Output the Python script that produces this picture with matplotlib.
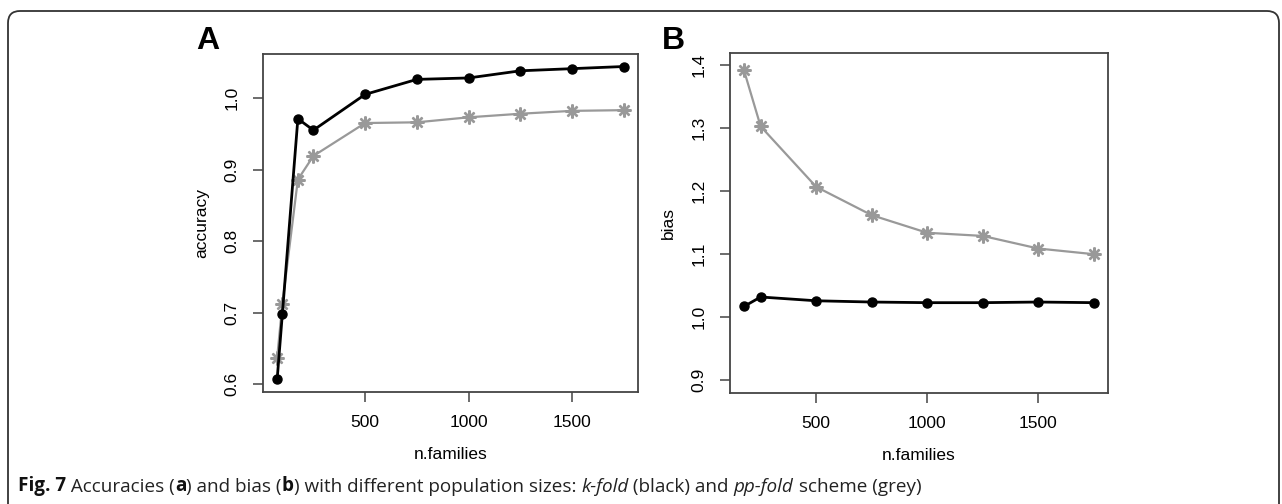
import matplotlib
matplotlib.use("Agg")
import matplotlib.pyplot as plt
from matplotlib.patches import FancyBboxPatch
from matplotlib.transforms import IdentityTransform
import numpy as np

# ---- data ----
n_families_a = [75, 100, 175, 250, 500, 750, 1000, 1250, 1500, 1750]
acc_kfold = [0.607, 0.698, 0.971, 0.955, 1.005, 1.026, 1.028, 1.038, 1.041, 1.044]
acc_ppfold = [0.637, 0.712, 0.886, 0.919, 0.965, 0.966, 0.973, 0.978, 0.982, 0.983]

n_families_b = [175, 250, 500, 750, 1000, 1250, 1500, 1750]
bias_kfold = [1.017, 1.032, 1.026, 1.024, 1.023, 1.023, 1.024, 1.023]
bias_ppfold = [1.392, 1.303, 1.207, 1.162, 1.134, 1.129, 1.109, 1.100]

x_ticks = [500, 1000, 1500]
acc_ticks = [0.6, 0.7, 0.8, 0.9, 1.0]
bias_ticks = [0.9, 1.0, 1.1, 1.2, 1.3, 1.4]

W, H = 1282, 504
DPI = 100
fig = plt.figure(figsize=(W / DPI, H / DPI), dpi=DPI)
fig.patch.set_facecolor("white")

AX_FONT = "Liberation Sans"
GREY = "#999999"
FRAME = "#444444"


def rect(l, t, r, b):
    return [l / W, 1 - b / H, (r - l) / W, (b - t) / H]


def r_expand(lo, hi):
    d = (hi - lo) * 0.04
    return lo - d, hi + d


def style(ax, yticks):
    for s in ax.spines.values():
        s.set_color(FRAME)
        s.set_linewidth(1.3)
    ax.set_xticks(x_ticks)
    ax.set_xticklabels([str(v) for v in x_ticks])
    ax.set_yticks(yticks)
    ax.set_yticklabels([f"{v:.1f}" for v in yticks])
    ax.tick_params(axis="both", direction="out", length=7, width=1.1,
                   color=FRAME, labelsize=12.5, pad=10)
    for lab in ax.get_yticklabels():
        lab.set_rotation(90)
        lab.set_va("center")
        lab.set_family(AX_FONT)
    for lab in ax.get_xticklabels():
        lab.set_family(AX_FONT)


def plot_series(ax, x, k, p):
    ax.plot(x, k, color="black", lw=2.0, marker="o", ms=6.5, zorder=3)
    ax.plot(x, p, color=GREY, lw=1.6, marker=(8, 2, 0), ms=10, mew=1.7, zorder=2)


# Panel A
axA = fig.add_axes(rect(263.3, 54, 637.7, 391.7))
plot_series(axA, n_families_a, acc_kfold, acc_ppfold)
axA.set_xlim(*r_expand(min(n_families_a), max(n_families_a)))
axA.set_ylim(*r_expand(min(acc_kfold + acc_ppfold), max(acc_kfold + acc_ppfold)))
style(axA, acc_ticks)
axA.set_xlabel("n.families", family=AX_FONT, fontsize=12.5, labelpad=12)
axA.set_ylabel("accuracy", family=AX_FONT, fontsize=12.5, labelpad=11)

# Panel B
axB = fig.add_axes(rect(730, 52.7, 1107.7, 392.7))
plot_series(axB, n_families_b, bias_kfold, bias_ppfold)
axB.set_xlim(*r_expand(min(n_families_b), max(n_families_b)))
axB.set_ylim(*r_expand(0.9, 1.4))
style(axB, bias_ticks)
axB.set_xlabel("n.families", family=AX_FONT, fontsize=12.5, labelpad=12)
axB.set_ylabel("bias", family=AX_FONT, fontsize=12.5, labelpad=11)

# panel letters
fig.text(208 / W, 1 - 41 / H, "A", family=AX_FONT, fontweight="bold",
         fontsize=23, ha="center", va="center")
fig.text(673 / W, 1 - 41 / H, "B", family=AX_FONT, fontweight="bold",
         fontsize=23, ha="center", va="center")

# outer rounded border (open at the bottom)
border = FancyBboxPatch((8, -40), 1271, (H - 11) + 40,
                        boxstyle="round,pad=0,rounding_size=12",
                        transform=IdentityTransform(), fill=False,
                        edgecolor="#333333", linewidth=1.3)
fig.add_artist(border)

# caption with mixed styles
CAP_FONT = "Open Sans"
pieces = [
    ("Fig. 7", "bold", "normal", "#111111"),
    (" Accuracies (", "normal", "normal", "#222222"),
    ("a", "bold", "normal", "#111111"),
    (") and bias (", "normal", "normal", "#222222"),
    ("b", "bold", "normal", "#111111"),
    (") with different population sizes: ", "normal", "normal", "#222222"),
    ("k-fold", "normal", "italic", "#222222"),
    (" (black) and ", "normal", "normal", "#222222"),
    ("pp-fold", "normal", "italic", "#222222"),
    (" scheme (grey)", "normal", "normal", "#222222"),
]
CAP_SIZE = 13.6
prev = None
for txt, wt, st, col in pieces:
    if prev is None:
        prev = fig.text(18 / W, 1 - 496 / H, txt, family=CAP_FONT, fontweight=wt,
                        fontstyle=st, fontsize=CAP_SIZE, color=col,
                        ha="left", va="bottom")
    else:
        prev = fig.add_artist(matplotlib.text.Annotation(
            txt, xy=(1, 0), xycoords=prev, ha="left", va="bottom",
            family=CAP_FONT, fontweight=wt, fontstyle=st,
            fontsize=CAP_SIZE, color=col))

fig.savefig("out.png", dpi=DPI)
